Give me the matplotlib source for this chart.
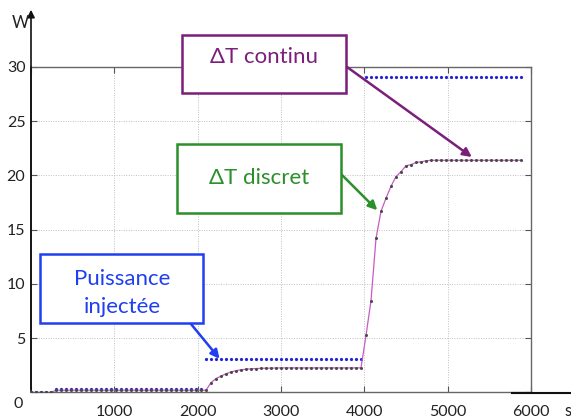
import matplotlib
matplotlib.use("Agg")
import matplotlib.pyplot as plt
from matplotlib.patches import Rectangle, FancyArrowPatch
from matplotlib.lines import Line2D

plt.rcParams['font.family'] = ['Lato', 'DejaVu Sans']

W, H = 571, 419

# sampling instants (s)
time_s = list(range(0, 5940, 60))

# injected power (W)
power_w = [0.0] * 5 + [0.28] * 30 + [3.05] * 32 + [29.1] * 32

# temperature rise (discrete samples)
dT_discret = ([0.0] * 5 + [0.2] * 30
              + [0.2, 0.9, 1.28, 1.5, 1.72, 1.88, 2.01, 2.08, 2.14, 2.17,
                 2.2, 2.22, 2.23, 2.24, 2.25]
              + [2.26] * 17
              + [5.25, 8.45, 14.2, 16.7, 17.9, 19.0, 19.9, 20.35, 20.9,
                 21.0, 21.2, 21.25, 21.35]
              + [21.4] * 19)

# continuous model follows the same curve
dT_continu = list(dT_discret)

x_ticks = [0, 1000, 2000, 3000, 4000, 5000, 6000]
x_labels = ["", "1000", "2000", "3000", "4000", "5000", "6000"]
y_ticks = [0, 5, 10, 15, 20, 25, 30]
y_labels = ["", "5", "10", "15", "20", "25", "30"]

blue = "#2222d8"
purple = "#7b1f7b"
green = "#2b8f2b"
box_blue = "#1f3ff0"


def px(x, y):
    """pixel position (from top-left) -> figure fraction"""
    return x / W, 1 - y / H


fig = plt.figure(figsize=(W / 100, H / 100), dpi=100)
ax = fig.add_axes([31 / W, 1 - 392.4 / H, 500 / W, 325.4 / H])

ax.plot(time_s, power_w, linestyle="none", marker="o", ms=2.3,
        mec="none", color=blue, zorder=3)
ax.plot(time_s, dT_continu, color="#c85ac8", lw=0.9, zorder=4)
ax.plot(time_s, dT_discret, linestyle="none", marker="o", ms=2.2,
        mec="none", color="#4a4a4a", zorder=5)

ax.set_xlim(0, 6000)
ax.set_ylim(0, 30)
ax.set_xticks(x_ticks)
ax.set_xticklabels(x_labels)
ax.set_yticks(y_ticks)
ax.set_yticklabels(y_labels)
ax.grid(True, linestyle=(0, (1, 1.5)), color="#c0c0c0", lw=0.7)
ax.tick_params(direction="in", top=True, right=True, length=4,
               color="#555555", labelsize=11.5, labelcolor="#222222")
ax.tick_params(axis="x", pad=9)
ax.tick_params(axis="y", pad=4)
for side in ["top", "right", "bottom"]:
    ax.spines[side].set_color("#666666")
    ax.spines[side].set_linewidth(1.0)
ax.spines["left"].set_color("#222222")
ax.spines["left"].set_linewidth(1.2)

# axis arrows and labels
fig.add_artist(FancyArrowPatch(px(31, 392), px(31, 7), transform=fig.transFigure,
                               arrowstyle="-|>", mutation_scale=11,
                               color="#111111", lw=1.2))
fig.add_artist(Line2D([512 / W, 1.0], [1 - 393 / H] * 2, color="#111111",
                      lw=1.5, transform=fig.transFigure))
fig.text(*px(20, 23), "W", fontsize=12, ha="center", va="center", color="#222222")
fig.text(*px(568, 411), "s", fontsize=12, ha="center", va="center", color="#222222")
fig.text(*px(18, 404), "0", fontsize=11.5, ha="center", va="center", color="#222222")

# callout boxes
boxes = [
    ((182, 35, 346, 93), purple, "\u0394T continu", [(264, 57)]),
    ((177, 144, 341, 213), green, "\u0394T discret", [(259, 178)]),
    ((40, 254, 203, 323), box_blue, None, []),
]
for (x0, y0, x1, y1), col, txt, pos in boxes:
    fig.add_artist(Rectangle(px(x0, y1), (x1 - x0) / W, (y1 - y0) / H,
                             transform=fig.transFigure, facecolor="white",
                             edgecolor=col, lw=1.8, zorder=6))
    for (tx, ty) in pos:
        fig.text(*px(tx, ty), txt, fontsize=16, ha="center", va="center",
                 color=col, zorder=7)

fig.text(*px(122, 279), "Puissance", fontsize=16, ha="center", va="center",
         color=box_blue, zorder=7)
fig.text(*px(122, 307), "inject\u00e9e", fontsize=16, ha="center", va="center",
         color=box_blue, zorder=7)

arrows = [
    ((347, 67), (5290, 21.7), purple),
    ((340, 173), (4155, 16.8), green),
    ((191, 324), (2263, 3.1), box_blue),
]
for start, tip, col in arrows:
    ax.annotate("", xy=tip, xycoords="data", xytext=px(*start),
                textcoords="figure fraction", annotation_clip=False,
                arrowprops=dict(arrowstyle="-|>", color=col, lw=1.8,
                                mutation_scale=13, shrinkA=0, shrinkB=0),
                zorder=8)

fig.savefig("out.png", dpi=100)
